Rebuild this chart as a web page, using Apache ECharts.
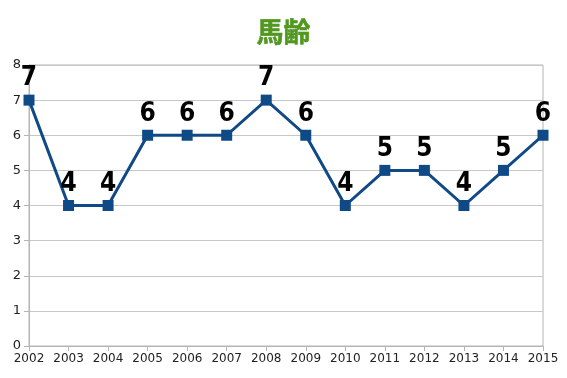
<!DOCTYPE html>
<html>
<head>
<meta charset="utf-8">
<script src="https://cdn.jsdelivr.net/npm/echarts@6/dist/echarts.min.js"></script>
<style>
  html, body { margin: 0; padding: 0; background: #fff; }
  #chart { width: 567px; height: 378px; }
</style>
</head>
<body>
<div id="chart"></div>
<script>
const years = ['2002', '2003', '2004', '2005', '2006', '2007', '2008', '2009', '2010', '2011', '2012', '2013', '2014', '2015'];
const ages = [7, 4, 4, 6, 6, 6, 7, 6, 4, 5, 5, 4, 5, 6];

const myChart = echarts.init(document.getElementById('chart'));
const option = {
  animation: false,
  title: {
    text: '馬齢',
    left: 'center',
    top: 13,
    textStyle: {
      fontFamily: 'Noto Sans CJK JP',
      fontSize: 27,
      fontWeight: 'bold',
      color: '#4f9a1c',
      textBorderColor: '#3f7f14',
      textBorderWidth: 0.5
    }
  },
  grid: {
    left: 29,
    right: 24,
    top: 65,
    bottom: 32,
    show: true,
    borderColor: '#b4b4b4',
    borderWidth: 1
  },
  xAxis: {
    type: 'category',
    data: years,
    boundaryGap: false,
    axisLine: { lineStyle: { color: '#b4b4b4' } },
    axisTick: { show: true, length: 5, lineStyle: { color: '#b4b4b4' } },
    axisLabel: {
      fontFamily: 'DejaVu Sans',
      fontSize: 12,
      color: '#222',
      margin: 7,
      interval: 0
    }
  },
  yAxis: {
    type: 'value',
    min: 0,
    max: 8,
    interval: 1,
    axisLine: { show: true, lineStyle: { color: '#b4b4b4' } },
    axisTick: { show: true, length: 5, lineStyle: { color: '#b4b4b4' } },
    splitLine: { lineStyle: { color: '#c8c8c8' } },
    axisLabel: {
      fontFamily: 'DejaVu Sans',
      fontSize: 13,
      color: '#222',
      margin: 8
    }
  },
  series: [{
    type: 'line',
    data: ages,
    symbol: 'rect',
    symbolSize: 11,
    lineStyle: { color: '#0f4a86', width: 3 },
    itemStyle: { color: '#0f4a86' },
    label: {
      show: true,
      position: 'top',
      distance: 3,
      fontFamily: 'DejaVu Sans Condensed, DejaVu Sans, sans-serif',
      fontWeight: 'bold',
      fontSize: 26,
      color: '#000'
    }
  }]
};
myChart.setOption(option);
</script>
</body>
</html>
